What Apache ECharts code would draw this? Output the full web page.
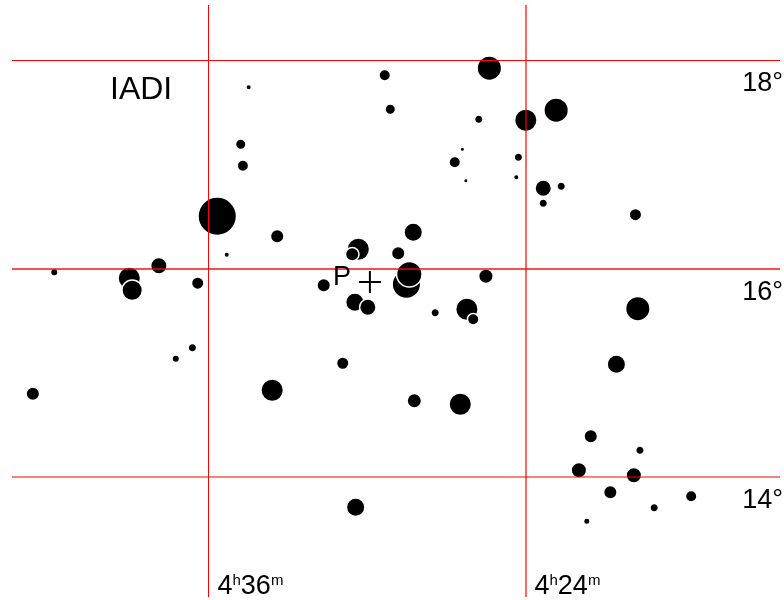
<!DOCTYPE html>
<html>
<head>
<meta charset="utf-8">
<style>html,body{margin:0;padding:0;background:#fff}#c{width:784px;height:600px}</style>
<script src="https://cdn.jsdelivr.net/npm/echarts@6/dist/echarts.min.js"></script>
</head>
<body>
<div id="c"></div>
<script>
// Right ascension (minutes of time), declination (degrees), apparent magnitude
const starRA = [265.38,269.34,274.49,269.13,262.85,264.00,265.78,274.79,274.71,266.40,264.28,266.69,266.27,264.36,263.34,262.66,263.34,275.68,259.85,273.41,268.26,270.34,270.57,268.83,275.32,281.85,279.01,278.90,277.89,276.42,271.65,268.41,268.52,265.51,270.47,269.98,267.43,266.23,265.99,259.76,260.57,270.93,276.62,277.25,282.66,273.60,268.22,266.48,261.54,259.68,261.99,259.91,260.80,257.74,259.14,261.69,270.44];
const starDec = [17.928,17.861,17.745,17.534,17.525,17.428,17.438,17.198,16.991,17.150,17.073,17.025,16.847,16.881,16.775,16.794,16.631,16.506,16.521,16.314,16.353,16.189,16.141,16.151,16.136,15.968,15.911,15.795,16.031,15.863,15.843,15.949,15.853,15.930,15.680,15.632,15.579,15.613,15.517,15.618,15.085,15.094,15.243,15.137,14.801,14.835,14.734,14.700,14.393,14.258,14.066,14.018,13.855,13.817,13.706,13.576,13.711];
const starMag = [4.39,7.28,8.61,7.5,4.39,4.83,7.94,7.5,7.28,8.83,7.94,7.28,8.83,8.61,6.17,7.94,7.94,1.28,7.06,6.83,5.72,4.83,6.83,6.83,8.61,8.17,4.83,5.28,6.17,7.06,6.83,4.17,3.5,6.61,5.72,6.17,7.94,4.83,7.28,4.39,5.72,7.06,7.94,8.17,6.83,4.83,6.61,4.83,6.83,7.94,6.39,6.39,6.83,7.28,7.94,8.39,5.72];
const raTicks = [276,264];
const raLabels = ['4{s|h}36{s|m}','4{s|h}24{s|m}'];
const decTicks = [14,16,18];
const decLabels = ['14°','16°','18°'];
const centerPoint = [269.89,15.872];
const centerName = 'P';
const chartTitle = 'IADI';
const raRange = [254.366,283.438];
const decRange = [12.847,18.533];

const stars = starRA.map((ra,i)=>[ra,starDec[i],starMag[i]]).sort((a,b)=>a[2]-b[2]);
const FONT = '"Liberation Sans", Arial, sans-serif';
const raLineStyles = {
  276:{type:'solid',color:'#ff0000',width:1,opacity:1},
  264:{type:'solid',color:'rgba(255,0,0,0.6)',width:2,opacity:1}
};
const decLineStyles = {
  14:{type:'solid',opacity:1,color:'rgba(255,0,0,0.5)',width:2},
  16:{type:'solid',opacity:1,color:'rgba(255,0,0,0.7)',width:2},
  18:{type:'solid',opacity:1,color:'#ff0000',width:1}
};
const gridLines = [
  ...raTicks.map(v=>({xAxis:v,lineStyle:raLineStyles[v]})),
  ...decTicks.map(v=>({yAxis:v,lineStyle:decLineStyles[v]}))
];
const hiddenAxis = {
  type:'value',
  axisLine:{show:false},
  axisTick:{show:false},
  axisLabel:{show:false},
  splitLine:{show:false}
};

const chart = echarts.init(document.getElementById('c'),null,{renderer:'canvas'});
chart.setOption({
  animation:false,
  backgroundColor:'#fff',
  title:{text:chartTitle,left:110,top:74,padding:0,textStyle:{fontFamily:FONT,fontSize:32,fontWeight:'normal',color:'#000'}},
  grid:{left:12,right:4,top:5,bottom:3,containLabel:false,outerBoundsMode:'none'},
  tooltip:{show:false},
  xAxis:{...hiddenAxis,inverse:true,min:raRange[0],max:raRange[1]},
  yAxis:{...hiddenAxis,min:decRange[0],max:decRange[1]},
  series:[
    {
      type:'scatter',z:2,silent:true,data:stars,
      symbol:'circle',
      symbolSize:d=>4.5*(9.5-d[2])+1.5,
      symbolOffset:[0.3,0.2],
      itemStyle:{color:'#000',borderColor:'#fff',borderWidth:1.5,opacity:1}
    },
    {
      type:'line',z:5,silent:true,data:[],
      markLine:{
        silent:true,symbol:'none',animation:false,label:{show:false},
        data:gridLines
      }
    },
    {
      type:'scatter',z:6,silent:true,data:[centerPoint],
      symbol:'path://M0 10H22V12H0ZM10 0H12V22H10Z',
      symbolSize:22,
      itemStyle:{color:'#000',opacity:1},
      label:{show:true,position:'left',distance:8,offset:[0,-5],formatter:()=>centerName,
        fontFamily:FONT,fontSize:27,color:'#000',opacity:1}
    },
    {
      type:'scatter',z:6,silent:true,symbolSize:0,
      data:raTicks.map((v,i)=>({value:[v,decRange[0]],name:raLabels[i]})),
      label:{show:true,position:[9,3],align:'left',verticalAlign:'bottom',formatter:'{b}',
        fontFamily:FONT,fontSize:27,color:'#000',opacity:1,
        rich:{s:{fontFamily:FONT,fontSize:15,color:'#000',verticalAlign:'top',padding:[0,0,10,0]}}}
    },
    {
      type:'scatter',z:6,silent:true,symbolSize:0,
      data:decTicks.map((v,i)=>({value:[raRange[0],v],name:decLabels[i]})),
      label:{show:true,position:[3,10],align:'right',verticalAlign:'top',formatter:'{b}',
        fontFamily:FONT,fontSize:27,color:'#000',opacity:1}
    }
  ]
});
</script>
</body>
</html>
